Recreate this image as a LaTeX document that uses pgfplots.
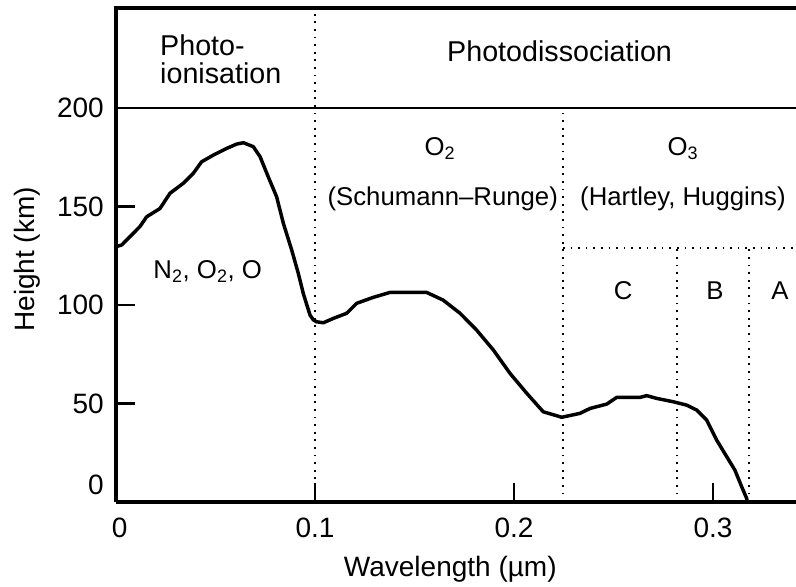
\documentclass[border=0pt]{standalone}
\usepackage{fontspec}
\setmainfont{Liberation Sans}
\usepackage{pgfplots}
\pgfplotsset{compat=1.18}
\newcommand\fs{\fontsize{21}{24}\selectfont}
\newcommand\flarge{\fontsize{21.5}{24}\selectfont}
\newcommand\finner{\fontsize{19.3}{22}\selectfont}
\begin{document}
\begin{tikzpicture}
\begin{axis}[
  at={(0,0)}, anchor=south west,
  scale only axis, width=510pt, height=370.5pt,
  xmin=0, xmax=0.34171, ymin=0, ymax=250.8,
  axis x line*=bottom, axis y line*=left,
  axis line style={-, line width=2.6pt},
  tick align=inside,
  major tick length=14pt,
  tick style={line width=1.8pt, black},
  xtick={0.1,0.2,0.3},
  extra x ticks={0},
  extra x tick style={major tick length=0pt, xticklabel style={xshift=2.7pt}},
  ytick={50,100,150,200},
  extra y ticks={0},
  extra y tick style={major tick length=0pt, yticklabel style={yshift=12.75pt}},
  xticklabel style={font=\fs, anchor=base, yshift=-26.25pt},
  yticklabel style={font=\fs, anchor=east, xshift=-5.6pt},
  /pgf/number format/assume math mode=true,
  clip=false,
]
% frame lines above the plot
\addplot[line width=2.3pt, line cap=rect] coordinates {(0,250.8) (0.34171,250.8)};
\addplot[line width=1.4pt] coordinates {(0,200) (0.34171,200)};
% region separators
\addplot[line width=1.6pt, dash pattern=on 1.3pt off 4.4pt] coordinates {(0.1,0) (0.1,250.8)};
\addplot[line width=1.6pt, dash pattern=on 1.3pt off 4.4pt] coordinates {(0.2246,0) (0.2246,200)};
\addplot[line width=1.6pt, dash pattern=on 1.3pt off 4.4pt] coordinates {(0.2246,129) (0.34171,129)};
\addplot[line width=1.6pt, dash pattern=on 1.3pt off 4.4pt] coordinates {(0.2817,0) (0.2817,129)};
\addplot[line width=1.6pt, dash pattern=on 1.3pt off 4.4pt] coordinates {(0.3182,0) (0.3182,129)};
% penetration height of solar radiation
\addplot[line width=2.6pt, line join=round] coordinates {
(0,129.6) (0.0029,130.5) (0.007,134.7) (0.012,139.8) (0.0154,144.8) (0.0221,149)
(0.0271,156.7) (0.0338,161.8) (0.0388,166.8) (0.043,172.7) (0.0489,176.1) (0.0556,179.5)
(0.0606,181.7) (0.064,182.4) (0.069,180.4) (0.0724,175.3) (0.0765,165.1) (0.0807,155)
(0.0841,141.5) (0.0883,127.9) (0.0916,116.1) (0.0941,105.9) (0.0975,94.9) (0.0992,92.4)
(0.1008,91.5) (0.1042,91) (0.1092,93.2) (0.1159,95.8) (0.121,100.9) (0.1293,103.9)
(0.1377,106.4) (0.1561,106.4) (0.1644,102.5) (0.1729,95.8) (0.1812,87.3) (0.1896,77.2)
(0.198,65.3) (0.2064,55.2) (0.2147,45.8) (0.2231,43.3) (0.2239,43) (0.2332,45)
(0.2382,47.5) (0.2466,49.7) (0.2516,53.1) (0.2633,53.1) (0.2667,54) (0.2717,52.6)
(0.28,50.9) (0.2867,49.2) (0.2918,46.7) (0.2968,41.6) (0.3018,31.5) (0.3069,23)
(0.311,16.2) (0.3144,7.8) (0.3169,1.9) (0.3172,0)
};
% region titles
\node[font=\flarge, anchor=base west, inner sep=0pt] at (axis cs:0.0221,226.9) {Photo-};
\node[font=\flarge, anchor=base west, inner sep=0pt] at (axis cs:0.0221,212.5) {ionisation};
\node[font=\flarge, anchor=base] at (axis cs:0.2229,223.5) {Photodissociation};
% absorbers and bands
\node[font=\finner, anchor=base] at (axis cs:0.1628,176.1) {O\textsubscript{2}};
\node[font=\finner, anchor=base] at (axis cs:0.1642,150.3) {(Schumann--Runge)};
\node[font=\finner, anchor=base] at (axis cs:0.2849,176.1) {O\textsubscript{3}};
\node[font=\finner, anchor=base] at (axis cs:0.2849,150.3) {(Hartley, Huggins)};
\node[font=\finner, anchor=base] at (axis cs:0.0461,113.6) {N\textsubscript{2}, O\textsubscript{2}, O};
\node[font=\finner, anchor=base] at (axis cs:0.2548,102.8) {C};
\node[font=\finner, anchor=base] at (axis cs:0.301,102.8) {B};
\node[font=\finner, anchor=base] at (axis cs:0.3337,102.8) {A};
% axis titles
\node[yshift=-56pt, font=\fs, anchor=base] at (axis cs:0.168,0) {Wavelength (µm)};
\node[xshift=-60.75pt, font=\fs, anchor=base, rotate=90] at (axis cs:0,123.2) {Height (km)};
\end{axis}
\pgfresetboundingbox
\path (-87pt,-63pt) rectangle (510pt,376.5pt);
\end{tikzpicture}
\end{document}
